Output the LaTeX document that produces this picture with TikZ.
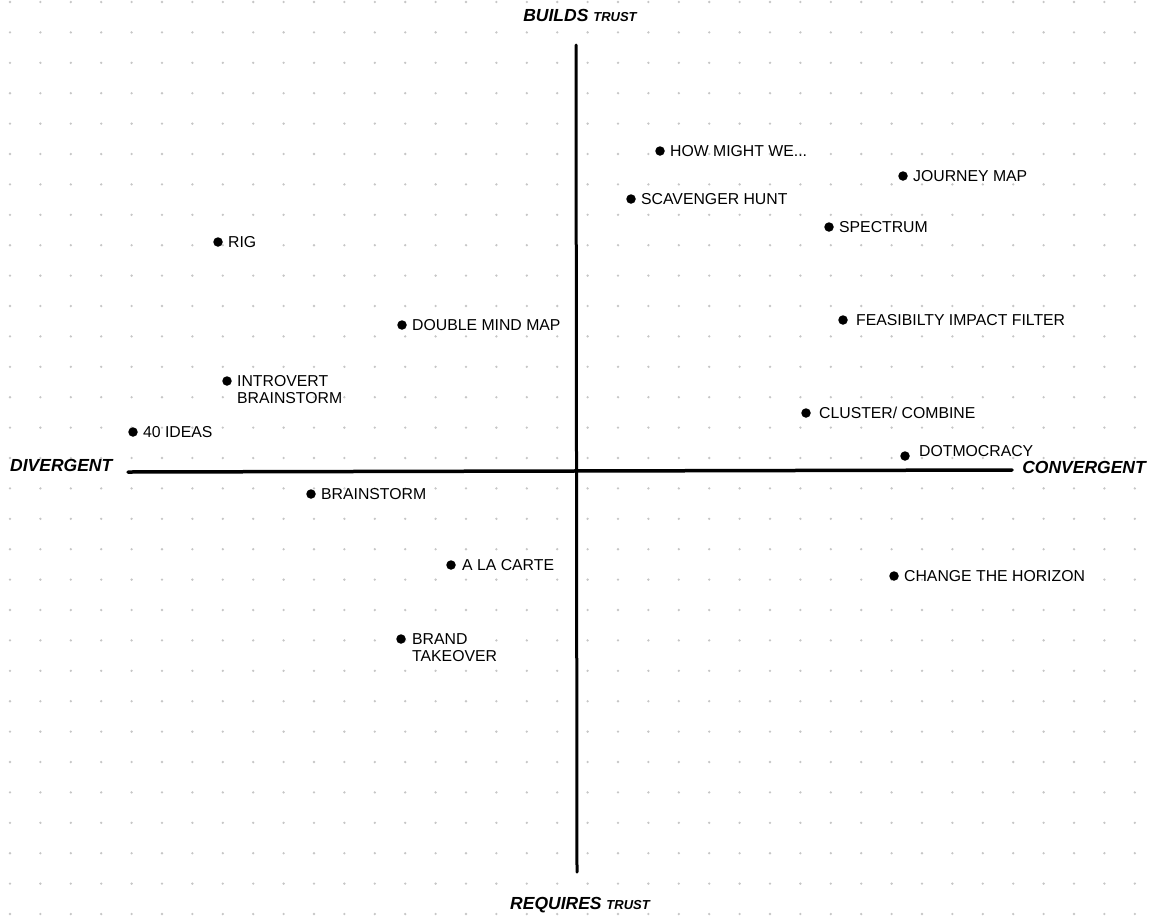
\documentclass[tikz,border=0pt]{standalone}
\usepackage{fontspec}
\setmainfont{Liberation Sans}
\usetikzlibrary{positioning}

\begin{document}
\begin{tikzpicture}[x=1pt, y=-1pt,
        Dot/.style={circle, fill=black, inner sep=0pt, minimum size=9.5pt},
        Lbl/.style={font=\fontsize{15.8}{17}\selectfont, inner sep=0pt, align=left},
        Ax/.style={font=\fontsize{17.5}{20}\selectfont\bfseries\itshape, inner sep=0pt},
        node distance=0pt and 5pt
    ]
    \useasboundingbox (0,0) rectangle (1153,919);

    % dotted paper
    \foreach \i in {0,...,37}
        \foreach \j in {0,...,30}
            \fill[gray!45] (10+30.4*\i, 2+30.4*\j) circle (1.3);

    % axes
    \coordinate (west)  at (128,472);
    \coordinate (east)  at (1012,470);
    \coordinate (north) at (576,45);
    \coordinate (south) at (577,872);
    \draw[line width=3.5pt, line cap=round] (west) -- (east);
    \draw[line width=3pt, line cap=round] (north) -- (south);

    \node[Ax] (bt) at (580,15) {BUILDS {\fontsize{13}{14}\selectfont TRUST}};
    \node[Ax] (rt) at (580,905) {REQUIRES {\fontsize{13}{14}\selectfont TRUST}};
    \node[Ax, anchor=west] (dv) at (10,465) {DIVERGENT};
    \node[Ax, anchor=east] (cv) at (1146,467) {CONVERGENT};

    % methods
    \node[Dot] (hmw) at (660,151) {};
    \node[Dot] (jm)  at (903,176) {};
    \node[Dot] (sh)  at (631,199) {};
    \node[Dot] (sp)  at (829,227) {};
    \node[Dot] (rig) at (218,242) {};
    \node[Dot] (dmm) at (402,325) {};
    \node[Dot] (fif) at (843,320) {};
    \node[Dot] (ib)  at (227,381) {};
    \node[Dot] (fi)  at (133,432) {};
    \node[Dot] (cc)  at (806,413) {};
    \node[Dot] (dm)  at (905,456) {};
    \node[Dot] (bs)  at (311,494) {};
    \node[Dot] (alc) at (451,565) {};
    \node[Dot] (cth) at (894,576) {};
    \node[Dot] (bt2) at (401,639) {};

    \node[Lbl] (hmwl) [right=of hmw] {HOW MIGHT WE...};
    \node[Lbl] (jml)  [right=of jm]  {JOURNEY MAP};
    \node[Lbl] (shl)  [right=of sh]  {SCAVENGER HUNT};
    \node[Lbl] (spl)  [right=of sp]  {SPECTRUM};
    \node[Lbl] (rigl) [right=of rig] {RIG};
    \node[Lbl] (dmml) [right=of dmm] {DOUBLE MIND MAP};
    \node[Lbl] (fifl) [right=8pt of fif] {FEASIBILTY IMPACT FILTER};
    \node[Lbl] (ibl)  [right=of ib, anchor=north west, yshift=5.5pt] {INTROVERT\\BRAINSTORM};
    \node[Lbl] (fil)  [right=of fi]  {40 IDEAS};
    \node[Lbl] (ccl)  [right=8pt of cc] {CLUSTER/ COMBINE};
    \node[Lbl] (dml)  [right=9pt of dm, yshift=5pt] {DOTMOCRACY};
    \node[Lbl] (bsl)  [right=of bs]  {BRAINSTORM};
    \node[Lbl] (alcl) [right=6pt of alc] {A LA CARTE};
    \node[Lbl] (cthl) [right=of cth] {CHANGE THE HORIZON};
    \node[Lbl] (bt2l) [right=6pt of bt2, anchor=north west, yshift=5.5pt] {BRAND\\TAKEOVER};
\end{tikzpicture}
\end{document}
